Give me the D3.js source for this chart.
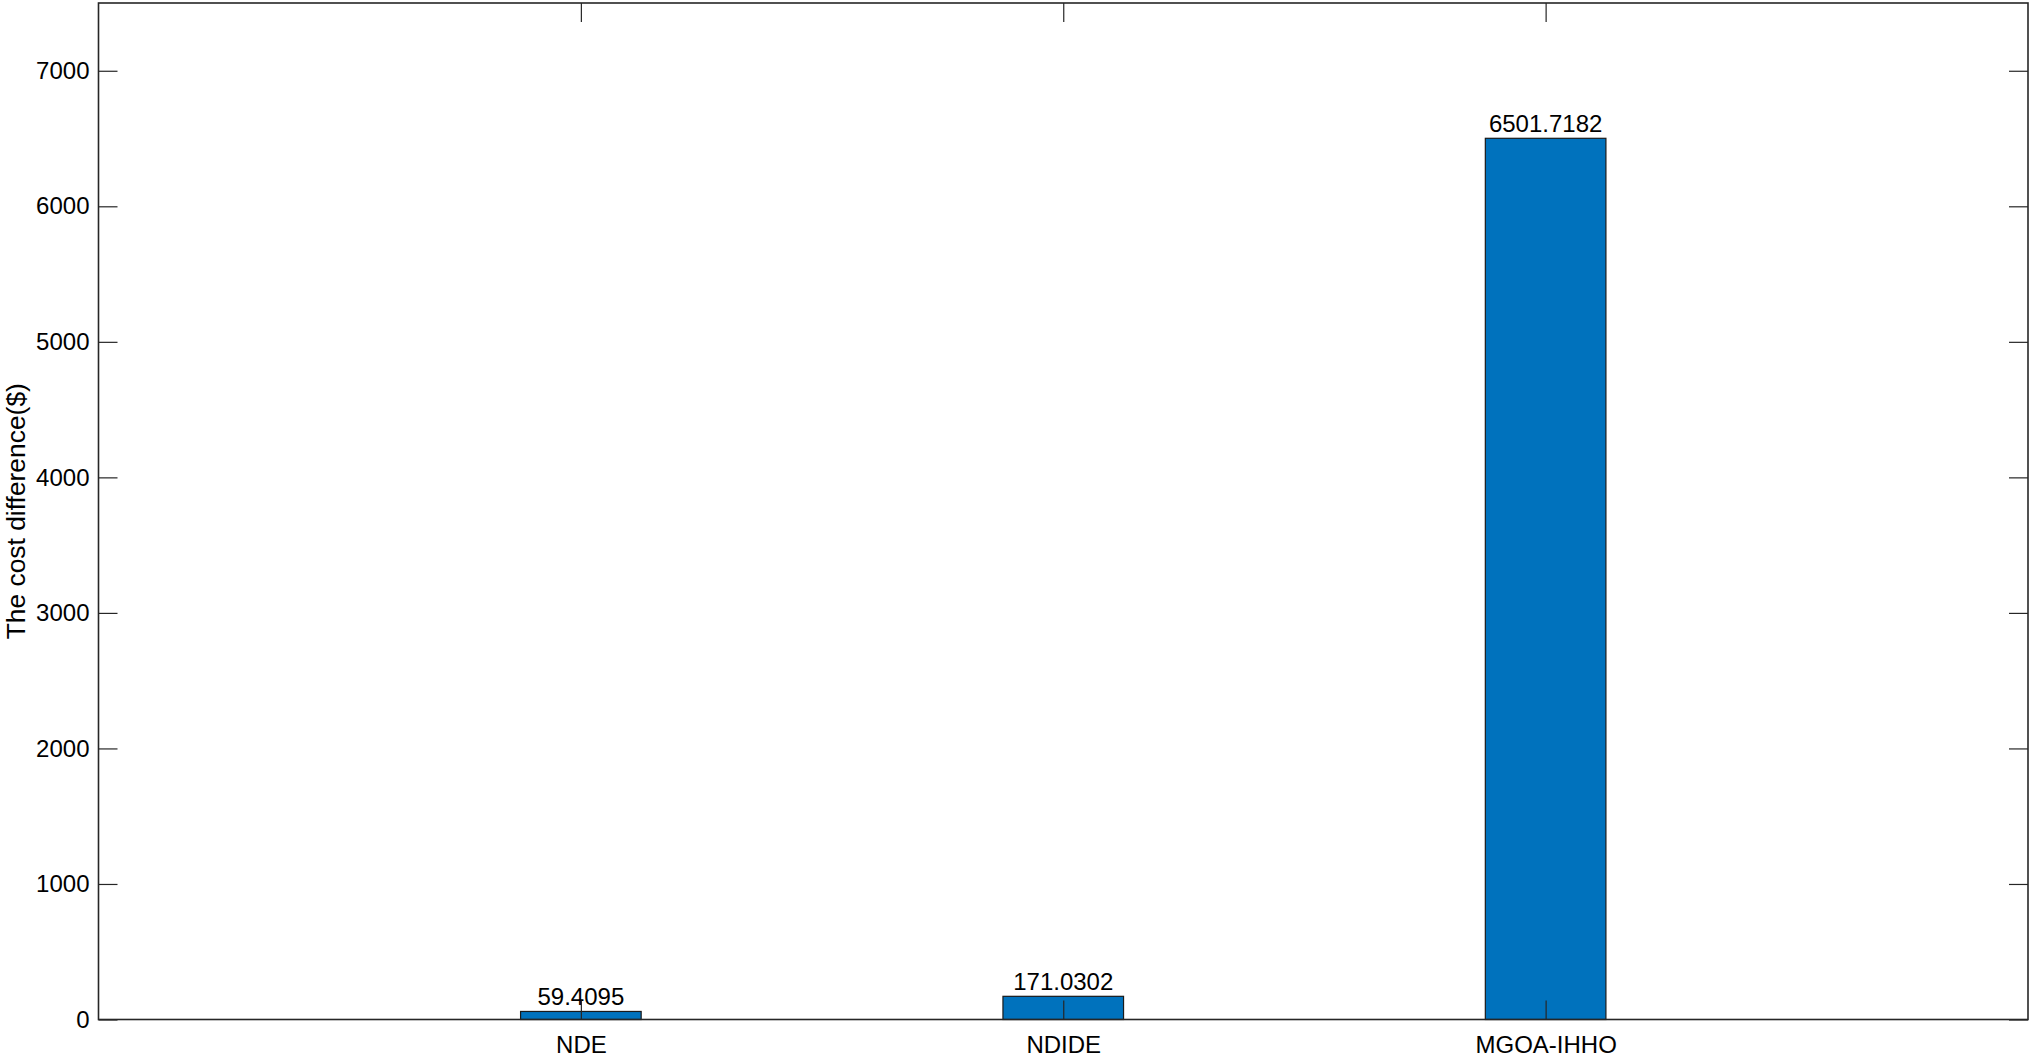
<!DOCTYPE html>
<html><head><meta charset="utf-8">
<script src="https://cdn.jsdelivr.net/npm/d3@7"></script>
<style>html,body{margin:0;padding:0;background:#fff;}svg{display:block;}</style>
</head><body>
<svg id="chart" width="2032" height="1057"></svg>
<script>
const categories = ["NDE", "NDIDE", "MGOA-IHHO"];
const values = [59.4095, 171.0302, 6501.7182];
const valueLabels = ["59.4095", "171.0302", "6501.7182"];
const yTicks = [0, 1000, 2000, 3000, 4000, 5000, 6000, 7000];
const yLabel = "The cost difference($)";

const svg = d3.select("#chart");
const L = 98.5, R = 2028, T = 3, B = 1019.5;
const x = d3.scaleLinear().domain([0, 4]).range([L, R]);
const y = d3.scaleLinear().domain([0, 7500]).range([B, T]);
const barW = 0.25;
const font = "Liberation Sans, Arial, sans-serif";
const tickLen = 19;

// bars
svg.selectAll("rect.bar").data(values).enter().append("rect")
  .attr("class", "bar")
  .attr("x", (d, i) => x(i + 1 - barW / 2))
  .attr("width", (d, i) => x(i + 1 + barW / 2) - x(i + 1 - barW / 2))
  .attr("y", d => y(d))
  .attr("height", d => y(0) - y(d))
  .attr("fill", "#0072BD")
  .attr("stroke", "#1a1a1a")
  .attr("stroke-width", 1.2);

// value labels
svg.selectAll("text.vl").data(values).enter().append("text")
  .attr("x", (d, i) => x(i + 1))
  .attr("y", d => y(d) - 6)
  .attr("text-anchor", "middle")
  .attr("font-family", font).attr("font-size", 24).attr("fill", "#000")
  .text((d, i) => valueLabels[i]);

// axes
const xt = [1, 2, 3];
const axBottom = d3.axisBottom(x).tickValues(xt).tickFormat((d) => categories[d - 1]).tickSizeInner(-tickLen).tickSizeOuter(0).tickPadding(16);
const axTop = d3.axisTop(x).tickValues(xt).tickFormat("").tickSizeInner(-tickLen).tickSizeOuter(0);
const axLeft = d3.axisLeft(y).tickValues(yTicks).tickFormat(d3.format("d")).tickSizeInner(-tickLen).tickSizeOuter(0).tickPadding(9);
const axRight = d3.axisRight(y).tickValues(yTicks).tickFormat("").tickSizeInner(-tickLen).tickSizeOuter(0);

function style(g) {
  g.select(".domain").remove();
  g.selectAll(".tick line").attr("stroke", "#262626").attr("stroke-width", 1.2);
  g.selectAll(".tick text").attr("font-family", font).attr("font-size", 24).attr("fill", "#000");
}
svg.append("g").attr("transform", `translate(0,${B})`).call(axBottom).call(style);
svg.append("g").attr("transform", `translate(0,${T})`).call(axTop).call(style);
svg.append("g").attr("transform", `translate(${L},0)`).call(axLeft).call(style);
svg.append("g").attr("transform", `translate(${R},0)`).call(axRight).call(style);

// box
svg.append("rect").attr("x", L).attr("y", T).attr("width", R - L).attr("height", B - T)
  .attr("fill", "none").attr("stroke", "#262626").attr("stroke-width", 1.6);

// y label
svg.append("text")
  .attr("transform", `translate(25,${(T + B) / 2}) rotate(-90)`)
  .attr("text-anchor", "middle")
  .attr("font-family", font).attr("font-size", 26.4).attr("fill", "#000")
  .text(yLabel);
</script>
</body></html>
